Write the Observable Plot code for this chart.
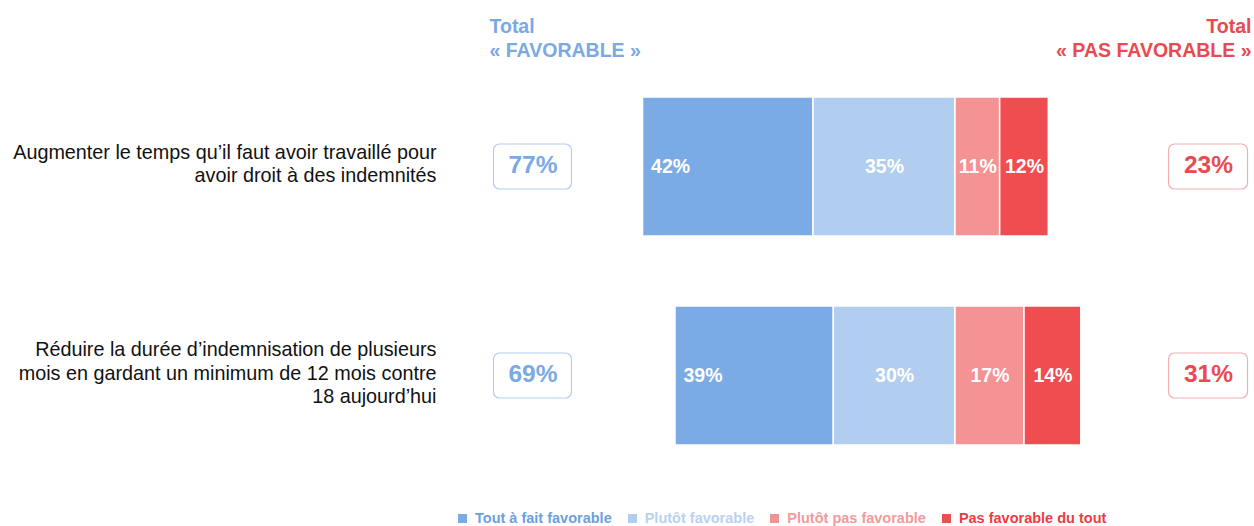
<!DOCTYPE html>
<html>
<head>
<meta charset="utf-8">
<script src="https://cdn.jsdelivr.net/npm/d3@7"></script>
<script src="https://cdn.jsdelivr.net/npm/@observablehq/plot@0.6"></script>
<style>
  html, body { margin: 0; padding: 0; background: #fff; }
  body { width: 1254px; height: 526px; overflow: hidden; font-family: "Liberation Sans", Arial, sans-serif; }
  #legend { display: flex; gap: 0; margin-left: 458px; margin-top: 15px; font-size: 14.5px; font-weight: bold; white-space: nowrap; }
  #legend .item { display: flex; align-items: center; margin-right: 16px; }
  #legend .sw { width: 9px; height: 9px; margin-right: 8px; display: inline-block; }
</style>
</head>
<body>
<div id="chart"></div>
<div id="legend"></div>
<script>
// ---- data ----
const questions = [
  "Augmenter le temps qu’il faut avoir travaillé pour\navoir droit à des indemnités",
  "Réduire la durée d’indemnisation de plusieurs\nmois en gardant un minimum de 12 mois contre\n18 aujourd’hui"
];
const categories = ["Tout à fait favorable", "Plutôt favorable", "Plutôt pas favorable", "Pas favorable du tout"];
const toutAFait = [42, 39];
const plutotFav = [35, 30];
const plutotPas = [11, 17];
const pasDuTout = [12, 14];
const totalFav = [77, 69];
const totalPas = [23, 31];

const colors = ["#7aabe4", "#b1cdf0", "#f59294", "#ef4d4f"];
const legendText = ["#6c9fdf", "#b9d1f1", "#f29a9d", "#ee3a40"];
const blue = "#7aa9e3", red = "#ea4a4f";

// ---- table ----
const series = [toutAFait, plutotFav, plutotPas, pasDuTout];
const rows = [];
questions.forEach((q, i) => {
  categories.forEach((c, j) => {
    const v = series[j][i];
    rows.push({q, cat: c, value: j < 2 ? -v : v, label: v + "%"});
  });
});
const totals = questions.map((q, i) => ({q, fav: totalFav[i] + "%", pas: totalPas[i] + "%"}));

const stackOrder = ["Plutôt favorable", "Tout à fait favorable", "Plutôt pas favorable", "Pas favorable du tout"];

// layout helpers (pixel → x-domain)
const W = 1254, H = 495, k = 4.058, zeroPx = 955;
const xd = p => (p - zeroPx) / k;

const font = "Liberation Sans, Arial, sans-serif";

const plot = Plot.plot({
  width: W, height: H,
  margin: 0,
  style: {fontFamily: font, background: "white"},
  x: {domain: [xd(0), xd(W)], range: [0, W], axis: null},
  y: {domain: questions, range: [61.5, 479.5], paddingInner: 0.337, paddingOuter: 0.1685, axis: null},
  color: {domain: categories, range: colors},
  marks: [
    Plot.barX(rows, Plot.stackX({x: "value", y: "q", z: "cat", fill: "cat", order: stackOrder, stroke: "white", strokeWidth: 1.5})),
    // first-segment labels, left-aligned
    Plot.text(rows, Plot.stackX2({x: "value", y: "q", z: "cat", order: stackOrder,
      text: d => d.cat === categories[0] ? d.label : null,
      textAnchor: "start", dx: 8, fill: "white", fontWeight: "bold", fontSize: 19.5})),
    // other segment labels, centered
    Plot.text(rows, Plot.stackX({x: "value", y: "q", z: "cat", order: stackOrder,
      text: d => d.cat !== categories[0] ? d.label : null,
      fill: "white", fontWeight: "bold", fontSize: 19.5})),
    // question labels
    Plot.text(questions, {y: d => d, text: d => d, frameAnchor: "left", x: xd(436), textAnchor: "end",
      fill: "#111", fontSize: 19.8, lineHeight: 1.19, dy: -4}),
    // total boxes
    Plot.barX(totals, {y: "q", x1: xd(493.5), x2: xd(571.5), insetTop: 47, insetBottom: 47, rx: 6,
      fill: "white", stroke: "#b4cdf0", strokeWidth: 1.2}),
    Plot.barX(totals, {y: "q", x1: xd(1168.5), x2: xd(1247.5), insetTop: 47, insetBottom: 47, rx: 6,
      fill: "white", stroke: "#f3aeb0", strokeWidth: 1.2}),
    Plot.text(totals, {y: "q", x: xd(532.5), text: "fav", fill: blue, fontWeight: "bold", fontSize: 24.5, dy: -2}),
    Plot.text(totals, {y: "q", x: xd(1208), text: "pas", fill: red, fontWeight: "bold", fontSize: 24.5, dy: -2}),
    // column headers
    Plot.text(["Total\n« FAVORABLE »"], {frameAnchor: "top-left", dx: 489, dy: 16, textAnchor: "start",
      lineAnchor: "top", fill: blue, fontWeight: "bold", fontSize: 19.5, lineHeight: 1.2}),
    Plot.text(["Total\n« PAS FAVORABLE »"], {frameAnchor: "top-right", dx: -3, dy: 16, textAnchor: "end",
      lineAnchor: "top", fill: red, fontWeight: "bold", fontSize: 19.5, lineHeight: 1.2})
  ]
});
document.getElementById("chart").appendChild(plot);

// legend
const leg = document.getElementById("legend");
categories.forEach((c, i) => {
  const it = document.createElement("span");
  it.className = "item";
  const sw = document.createElement("span");
  sw.className = "sw";
  sw.style.background = colors[i];
  const t = document.createElement("span");
  t.textContent = c;
  t.style.color = legendText[i];
  it.appendChild(sw); it.appendChild(t);
  leg.appendChild(it);
});
</script>
</body>
</html>
